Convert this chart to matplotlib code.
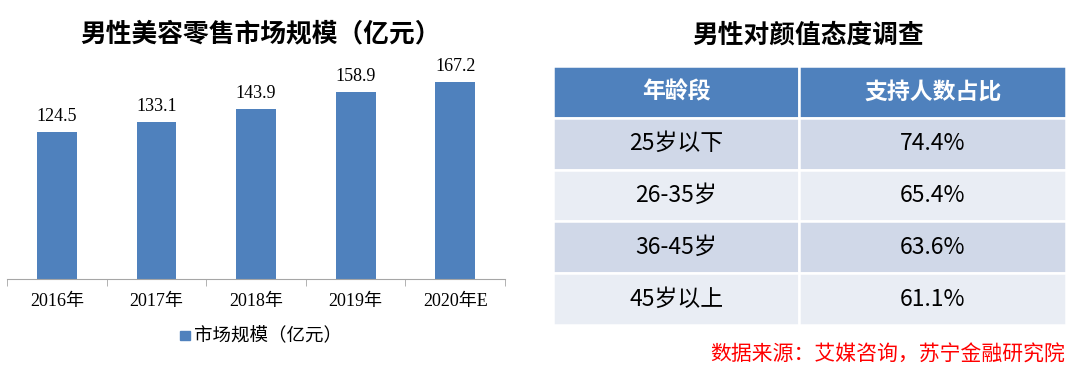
import matplotlib.pyplot as plt
from matplotlib.patches import Rectangle

plt.rcParams['font.family'] = ['Noto Sans CJK SC', 'DejaVu Sans']

# Bar chart data
years = ["2016年", "2017年", "2018年", "2019年", "2020年E"]
market_size = [124.5, 133.1, 143.9, 158.9, 167.2]

# Table data
table_header = ["年龄段", "支持人数占比"]
age_groups = ["25岁以下", "26-35岁", "36-45岁", "45岁以上"]
support_pct = ["74.4%", "65.4%", "63.6%", "61.1%"]

blue = "#4F81BD"
serif = ['Liberation Serif', 'Noto Sans CJK SC']

fig = plt.figure(figsize=(10.77, 3.73), dpi=100)

# ---- left: bar chart ----
ax = fig.add_axes([0.0065, 0.252, 0.4625, 0.587])
x = list(range(len(years)))
ax.bar(x, market_size, width=0.4, color=blue, zorder=2)
for xi, v in zip(x, market_size):
    ax.annotate(f"{v:.1f}", (xi, v), xytext=(0, 5), textcoords="offset points",
                ha="center", va="bottom", fontsize=13, family=serif)
ax.set_xlim(-0.5, len(years) - 0.5)
ax.set_ylim(0, 185.6)
for s in ["top", "right", "left"]:
    ax.spines[s].set_visible(False)
ax.spines["bottom"].set_color("#A6A6A6")
ax.set_yticks([])
ax.set_xticks(x)
ax.set_xticklabels(years, family=serif, fontsize=13)
ax.tick_params(axis="x", length=0, pad=10)
ax.set_xticks([i - 0.5 for i in range(len(years) + 1)], minor=True)
ax.tick_params(axis="x", which="minor", length=5, color="#A6A6A6")
fig.text(0.242, 0.91, "男性美容零售市场规模（亿元）", ha="center", va="center",
         fontsize=18.5, fontweight="bold")

# legend
fig.patches.append(Rectangle((0.1675, 0.088), 0.0085, 0.024, transform=fig.transFigure,
                             color=blue))
fig.text(0.180, 0.099, "市场规模（亿元）", ha="left", va="center", fontsize=13.3)

# ---- right: table ----
tx = fig.add_axes([0.5135, 0.1287, 0.4763, 0.6944])
tx.set_xlim(0, 2)
tx.set_ylim(len(age_groups) + 1, 0)
tx.axis("off")
col_w = [0.96, 1.04]
col_x = [0, 0.96]
rows = [table_header] + [[a, p] for a, p in zip(age_groups, support_pct)]
for r, row in enumerate(rows):
    if r == 0:
        fc = blue
    elif r % 2 == 1:
        fc = "#D0D8E8"
    else:
        fc = "#E9EDF4"
    for c, val in enumerate(row):
        tx.add_patch(Rectangle((col_x[c], r), col_w[c], 1, facecolor=fc,
                               edgecolor="white", linewidth=1.8))
        tx.text(col_x[c] + col_w[c] / 2, r + 0.5, val, ha="center", va="center",
                fontsize=16.5, color="white" if r == 0 else "black",
                fontweight="bold" if r == 0 else "normal")
fig.text(0.75, 0.905, "男性对颜值态度调查", ha="center", va="center",
         fontsize=18.5, fontweight="bold")

fig.text(0.989, 0.048, "数据来源：艾媒咨询，苏宁金融研究院", ha="right", va="center",
         fontsize=15, color="red", style="italic")

fig.savefig("out.png", dpi=100)
